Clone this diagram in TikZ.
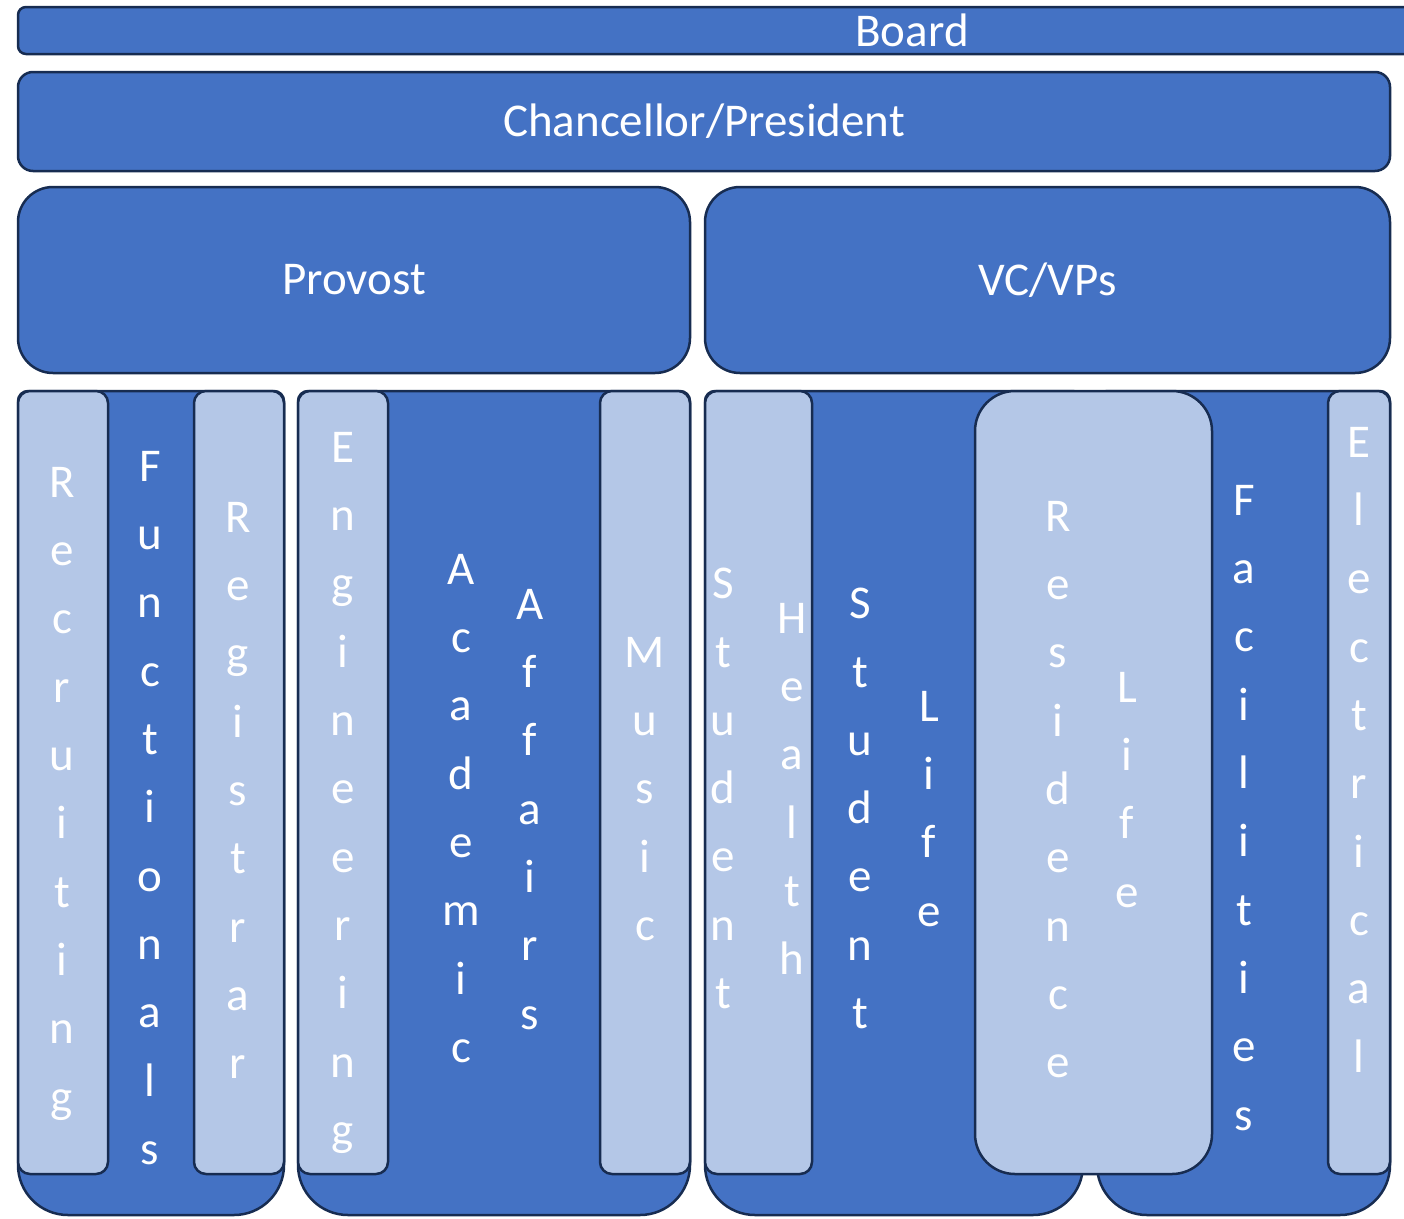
\documentclass[tikz,border=0pt]{standalone}
\usepackage{fontspec}
\setmainfont{Carlito}
\usetikzlibrary{positioning}

\definecolor{accent}{HTML}{4472C4}
\definecolor{tint}{HTML}{B4C7E7}
\definecolor{rim}{HTML}{172C51}

% dark tray behind a group: small top corners, wide bottom corners
\newcommand\tray[4]{%
  \draw[trayline] (#1+10,#3) -- (#2-10,#3) arc[start angle=-90,end angle=0,radius=10]
    -- (#2,#4-50) arc[start angle=0,end angle=90,radius=50]
    -- (#1+50,#4) arc[start angle=90,end angle=180,radius=50]
    -- (#1,#3+10) arc[start angle=180,end angle=270,radius=10] -- cycle;}

\begin{document}
\begin{tikzpicture}[x=1pt,y=-1pt,
  trayline/.style={draw=rim, line width=2.5pt, fill=accent},
  box/.style={draw=rim, line width=2.5pt, fill=accent, rectangle, outer sep=0pt, inner sep=0pt,
    anchor=north west, text=white, font=\fontsize{47}{56}\selectfont},
  pale/.style={box, fill=tint, rounded corners=12pt, minimum height=783},
  column/.style={text=white, font=\fontsize{47}{68.3}\selectfont, align=center, anchor=north, inner sep=0pt}]

	\useasboundingbox (0,0) rectangle (1404,1218);
	\clip (0,0) rectangle (1404,1218);

	% top levels
	\node (board) [box, rounded corners=8pt, minimum width=1788, minimum height=47] at (18,7) {Board};
	\node (chancellor) [box, rounded corners=15pt, minimum width=1372, minimum height=99] at (18,72) {Chancellor/President};
	\node (provost) [box, rounded corners=35pt, minimum width=672, minimum height=186] at (18,187) {Provost};
	\node (vcvp) [box, rounded corners=35pt, minimum width=685, minimum height=186] at (705,187) {VC/VPs};

	% trays
	\tray{18}{284}{391}{1215}
	\tray{298}{690}{391}{1215}
	\tray{705}{1083}{391}{1215}
	\tray{1097}{1390}{391}{1215}

	% light boxes
	\node (recruit) [pale, minimum width=90] at (18,391) {};
	\node (registrar) [pale, minimum width=90] at (194,391) {};
	\node (engin) [pale, minimum width=90] at (298,391) {};
	\node (music) [pale, minimum width=90] at (600,391) {};
	\node (health) [pale, minimum width=107] at (705,391) {};
	\node (resid) [pale, rounded corners=40pt, minimum width=237] at (975,391) {};
	\node (elec) [pale, minimum width=62] at (1328,391) {};

	% stacked labels
	\node (t-recruit) [column] at (62,467) {R\\e\\c\\r\\u\\i\\t\\i\\n\\g};
	\node (t-func) [column] at (150,451) {F\\u\\n\\c\\t\\i\\o\\n\\a\\l\\s};
	\node (t-registrar) [column] at (238,502) {R\\e\\g\\i\\s\\t\\r\\a\\r};
	\node (t-engin) [column] at (343,432) {E\\n\\g\\i\\n\\e\\e\\r\\i\\n\\g};
	\node (t-acad) [column] at (461,554) {A\\c\\a\\d\\e\\m\\i\\c};
	\node (t-aff) [column] at (530,589) {A\\f\\f\\a\\i\\r\\s};
	\node (t-music) [column] at (645,637) {M\\u\\s\\i\\c};
	\node (t-student) [column] at (723,568) {S\\t\\u\\d\\e\\n\\t};
	\node (t-health) [column] at (792,603) {H\\e\\a\\l\\t\\h};
	\node (t-slstudent) [column] at (860,588) {S\\t\\u\\d\\e\\n\\t};
	\node (t-sllife) [column] at (929,691) {L\\i\\f\\e};
	\node (t-resid) [column] at (1058,501) {R\\e\\s\\i\\d\\e\\n\\c\\e};
	\node (t-rlife) [column] at (1127,672) {L\\i\\f\\e};
	\node (t-facil) [column] at (1244,485) {F\\a\\c\\i\\l\\i\\t\\i\\e\\s};
	\node (t-elec) [column] at (1359,427) {E\\l\\e\\c\\t\\r\\i\\c\\a\\l};

\end{tikzpicture}
\end{document}
